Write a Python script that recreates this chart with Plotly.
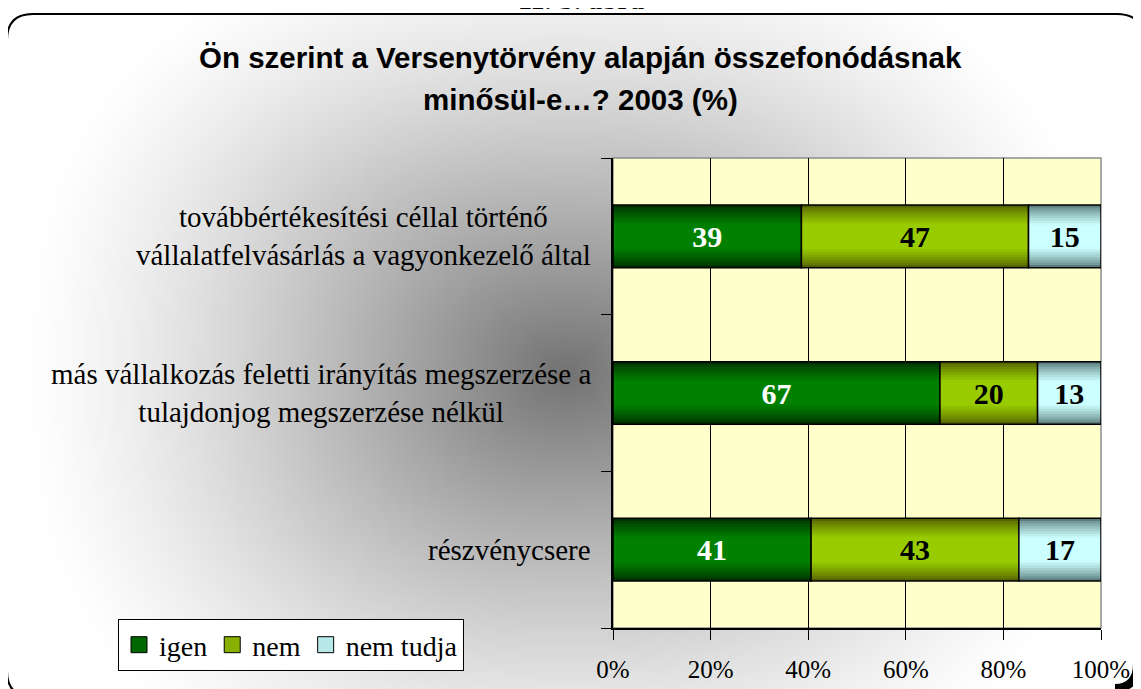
import base64
import struct
import zlib

import numpy as np
import plotly.graph_objects as go

# ---------------- data ----------------
categories = [
    "továbbértékesítési céllal történő vállalatfelvásárlás a vagyonkezelő által",
    "más vállalkozás feletti irányítás megszerzése a tulajdonjog megszerzése nélkül",
    "részvénycsere",
]
category_labels = [
    "továbbértékesítési céllal történő<br>vállalatfelvásárlás a vagyonkezelő által",
    "más vállalkozás feletti irányítás megszerzése a<br>tulajdonjog megszerzése nélkül",
    "részvénycsere",
]
series_names = ["igen", "nem", "nem tudja"]
igen = [39, 67, 41]
nem = [47, 20, 43]
nem_tudja = [15, 13, 17]
x_tick_values = [0, 20, 40, 60, 80, 100]
x_tick_labels = ["0%", "20%", "40%", "60%", "80%", "100%"]

title_lines = ["Ön szerint a Versenytörvény alapján összefonódásnak", "minősül-e…? 2003 (%)"]
figure_caption = "11. b. ábra"

# ---------------- styles ----------------
edge_colors = [(0, 48, 0), (84, 98, 0), (92, 124, 124)]
center_colors = [(0, 128, 0), (153, 204, 0), (204, 255, 255)]
legend_colors = ["#006600", "#88B000", "#B8E8E8"]
label_colors = ["white", "black", "black"]

OFF = 8  # page margin of the browser around the figure
FIG_W, FIG_H = 1141, 689
# plot area in screen pixels
L, R, T, B = 613, 1101, 158, 628
PW, PH = R - L, B - T


def px(x):
    return (x - L) / PW


def py(y):
    return (B - y) / PH


def png_data_uri(gray):
    h, w = gray.shape
    raw = b"".join(b"\x00" + gray[i].tobytes() for i in range(h))

    def chunk(tag, data):
        c = struct.pack(">I", len(data)) + tag + data
        return c + struct.pack(">I", zlib.crc32(tag + data) & 0xFFFFFFFF)

    png = b"\x89PNG\r\n\x1a\n"
    png += chunk(b"IHDR", struct.pack(">IIBBBBB", w, h, 8, 0, 0, 0, 0))
    png += chunk(b"IDAT", zlib.compress(raw, 9))
    png += chunk(b"IEND", b"")
    return "data:image/png;base64," + base64.b64encode(png).decode()


# background gradient (decoration)
BX0, BY0, BX1, BY1 = 7, 14, 1146, 697
gh, gw = 170, 285
Y, X = np.meshgrid(np.linspace(BY0, BY1, gh), np.linspace(BX0, BX1, gw), indexing="ij")
dx = np.abs(X - 566) / 540
dy = np.abs(Y - 372) / 440
d = (dx ** 2.5 + dy ** 2.5) ** (1 / 2.5)
val = 1 - 0.55 * np.clip(1 - d, 0, 1) ** 1.3
gray = np.clip(val * 255, 0, 255).astype(np.uint8)
bg_uri = png_data_uri(gray)

# ---------------- bars ----------------
series_values = [igen, nem, nem_tudja]
totals = [sum(v[i] for v in series_values) for i in range(len(categories))]
pct = [[v[i] / totals[i] * 100 for i in range(len(categories))] for v in series_values]
bases = []
running = [0.0] * len(categories)
for p in pct:
    bases.append(list(running))
    running = [running[i] + p[i] for i in range(len(categories))]

BAR_W = 0.4
N_LAYERS = 12


def mix(a, b, t):
    return "rgb(%d,%d,%d)" % tuple(round(a[k] + (b[k] - a[k]) * t) for k in range(3))


fig = go.Figure()
for s in range(3):
    for k in range(N_LAYERS):
        frac = k / N_LAYERS
        t = min(1.0, frac / 0.6) ** 0.75
        fig.add_trace(go.Bar(
            orientation="h", y=categories, x=pct[s], base=bases[s],
            width=BAR_W * (1 - frac), marker=dict(color=mix(edge_colors[s], center_colors[s], t), line=dict(width=0)),
            showlegend=False, hoverinfo="skip",
        ))
    fig.add_trace(go.Bar(
        orientation="h", y=categories, x=pct[s], base=bases[s], width=BAR_W,
        marker=dict(color="rgba(0,0,0,0)", line=dict(color="black", width=1.5)),
        text=["<b>%d</b>" % v for v in series_values[s]], textposition="inside",
        insidetextanchor="middle", textangle=0,
        textfont=dict(family="Liberation Serif", size=30, color=label_colors[s]),
        showlegend=False, name=series_names[s], cliponaxis=False,
    ))

for s in range(3):
    fig.add_trace(go.Scatter(
        x=[None], y=[None], mode="markers", name=series_names[s],
        marker=dict(symbol="square", size=16, color=legend_colors[s], line=dict(color="black", width=1)),
    ))

# ---------------- annotations ----------------
annotations = []
for cat, lab in zip(categories, category_labels):
    annotations.append(dict(
        xref="paper", yref="y", x=px(593), y=cat, xanchor="right", yanchor="middle",
        text=lab, align="center", showarrow=False,
        font=dict(family="Liberation Serif", size=29, color="black"),
    ))
for i, (line, yc) in enumerate(zip(title_lines, [57, 99])):
    annotations.append(dict(
        xref="paper", yref="paper", x=px(580), y=py(yc), xanchor="center", yanchor="middle",
        text="<b>%s</b>" % line, showarrow=False,
        font=dict(family="Liberation Sans", size=29.5, color="black"),
    ))
annotations.append(dict(
    xref="paper", yref="paper", x=px(581), y=py(-1), xanchor="center", yanchor="middle",
    text="<b>%s</b>" % figure_caption, showarrow=False,
    font=dict(family="Liberation Serif", size=28, color="black"),
))


def rrect_path(x0, y0, x1, y1, r):
    pts = [
        ("M", (x0 + r, y0)), ("L", (x1 - r, y0)), ("Q", (x1, y0), (x1, y0 + r)),
        ("L", (x1, y1 - r)), ("Q", (x1, y1), (x1 - r, y1)), ("L", (x0 + r, y1)),
        ("Q", (x0, y1), (x0, y1 - r)), ("L", (x0, y0 + r)), ("Q", (x0, y0), (x0 + r, y0)),
    ]
    out = []
    for item in pts:
        cmd = item[0]
        coords = " ".join("%.5f,%.5f" % (px(p[0]), py(p[1])) for p in item[1:])
        out.append(cmd + coords)
    return " ".join(out) + " Z"


shadow_path = "M%.5f,%.5f Q%.5f,%.5f %.5f,%.5f" % (
    px(1137), py(664), px(1137), py(688), px(1115), py(688))

shapes = [
    dict(type="rect", xref="x domain", yref="y domain", x0=0, x1=1, y0=0, y1=1,
         fillcolor="#FFFFCC", line=dict(color="#8C8C8C", width=1.5), layer="below"),
    dict(type="path", xref="paper", yref="paper", path=shadow_path,
         line=dict(color="black", width=8), layer="above"),
    dict(type="path", xref="paper", yref="paper", path=rrect_path(7, 14, 1143, 697, 26),
         line=dict(color="black", width=2), layer="above"),
]

fig.update_layout(
    width=FIG_W, height=FIG_H,
    margin=dict(l=L - OFF, r=FIG_W - (R - OFF), t=T - OFF, b=FIG_H - (B - OFF), pad=0),
    paper_bgcolor="white", plot_bgcolor="rgba(0,0,0,0)",
    barmode="overlay",
    showlegend=True,
    legend=dict(
        orientation="h", x=px(118), y=py(619), xanchor="left", yanchor="top",
        bgcolor="white", bordercolor="black", borderwidth=1,
        font=dict(family="Liberation Serif", size=28, color="black"),
        itemwidth=30, tracegroupgap=0,
    ),
    xaxis=dict(
        range=[0, 100], tickvals=x_tick_values, ticktext=x_tick_labels,
        showgrid=True, gridcolor="black", gridwidth=1,
        ticks="outside", ticklen=10, tickcolor="black", tickwidth=1,
        showline=True, linecolor="black", linewidth=1.5, zeroline=False,
        tickfont=dict(family="Liberation Serif", size=25, color="black"),
        ticklabelstandoff=8, fixedrange=True,
    ),
    yaxis=dict(
        type="category", categoryorder="array", categoryarray=categories[::-1],
        range=[-0.5, 2.5], tickson="boundaries", ticks="outside", ticklen=10,
        tickcolor="black", showticklabels=False, showgrid=False,
        showline=True, linecolor="black", linewidth=1.5, zeroline=False, fixedrange=True,
    ),
    images=[dict(
        source=bg_uri, xref="paper", yref="paper", x=px(BX0), y=py(BY0),
        sizex=(BX1 - BX0) / PW, sizey=(BY1 - BY0) / PH, xanchor="left", yanchor="top",
        sizing="stretch", layer="below",
    )],
    shapes=shapes,
    annotations=annotations,
    uniformtext=dict(mode=False),
)

fig.write_html("out.html")
